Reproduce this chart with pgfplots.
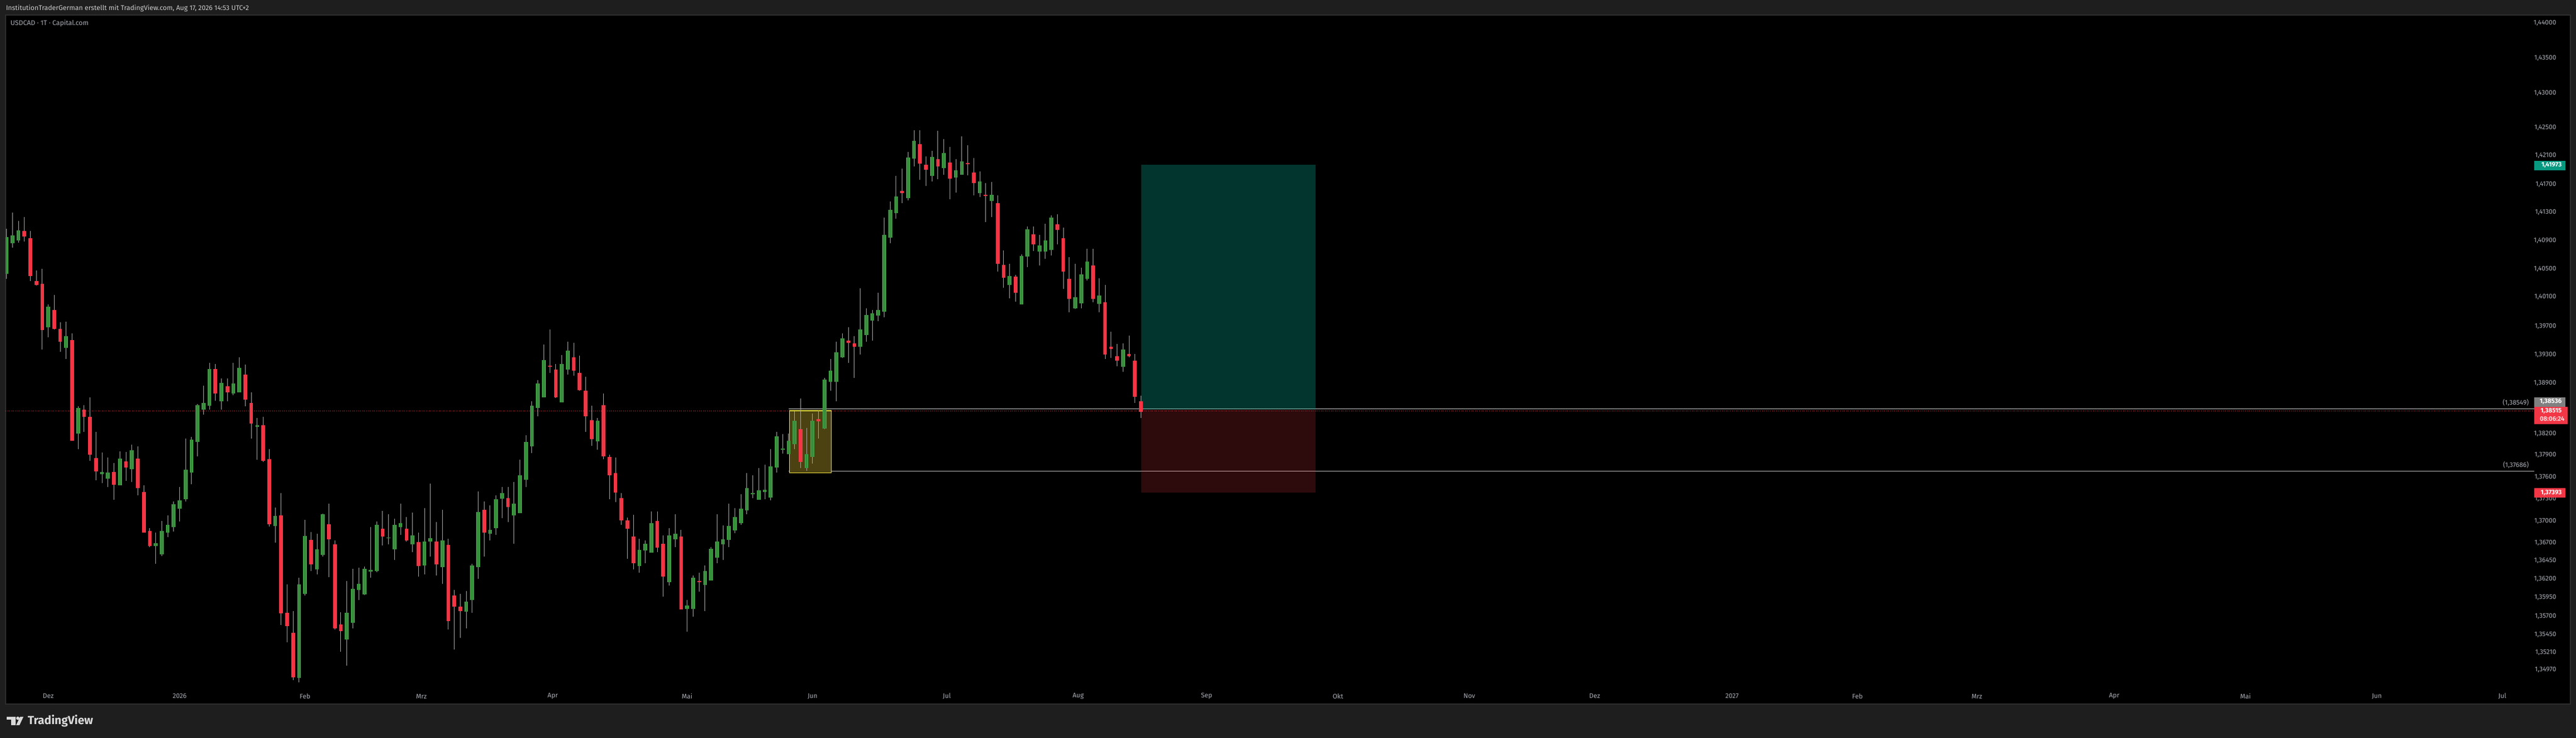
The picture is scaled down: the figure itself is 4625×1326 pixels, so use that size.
\documentclass[border=0pt]{standalone}
\usepackage{pgfplots}
\usepackage{pgfplotstable}
\usepackage{fontspec}
\pgfplotsset{compat=1.18}
\setmainfont{Fira Sans}
\definecolor{frameBg}{HTML}{1E1E1E}
\definecolor{frameLn}{HTML}{2E2E2E}
\definecolor{tickc}{HTML}{A8ABB3}
\definecolor{upBody}{HTML}{388E3C}
\definecolor{upEdge}{HTML}{4CAF50}
\definecolor{dnBody}{HTML}{F23645}
\definecolor{wick}{HTML}{A8A8A8}
\definecolor{teal}{HTML}{089981}
\definecolor{lvl}{HTML}{C8C8C8}
\definecolor{boxFill}{HTML}{4C4211}
\definecolor{boxLine}{HTML}{F5E23B}
\pgfplotstableread{
x o h l c
0 1.40436 1.41061 1.40358 1.40951
1 1.40860 1.41297 1.40805 1.40972
2 1.40906 1.41176 1.40875 1.41051
7 1.39677 1.40001 1.39537 1.39970
10 1.39396 1.39760 1.39241 1.39565
12 1.38208 1.38583 1.37992 1.38558
16 1.37646 1.37936 1.37523 1.37680
17 1.37585 1.37875 1.37467 1.37664
19 1.37493 1.37967 1.37487 1.37857
21 1.37715 1.38044 1.37539 1.37972
25 1.36658 1.36841 1.36417 1.36696
26 1.36546 1.37001 1.36523 1.36869
27 1.36843 1.37077 1.36780 1.36945
28 1.36919 1.37268 1.36856 1.37230
29 1.37171 1.37467 1.36993 1.37284
30 1.37301 1.38144 1.37263 1.37705
31 1.37661 1.38159 1.37506 1.38113
32 1.38092 1.38609 1.37890 1.38597
33 1.38537 1.38869 1.38468 1.38627
34 1.38591 1.39187 1.38537 1.39099
36 1.38653 1.38970 1.38537 1.38906
38 1.38761 1.39187 1.38738 1.38896
39 1.38784 1.39272 1.38776 1.39115
42 1.38298 1.38421 1.37844 1.38321
45 1.36932 1.37184 1.36703 1.37070
49 1.34867 1.36225 1.34805 1.36132
50 1.36007 1.37014 1.35982 1.36793
52 1.36341 1.36825 1.36270 1.36618
53 1.36539 1.37100 1.36513 1.37092
57 1.35385 1.36179 1.35030 1.35747
58 1.35611 1.36346 1.35543 1.36071
59 1.36060 1.36361 1.35922 1.36139
60 1.35998 1.36376 1.35990 1.36344
61 1.36303 1.36917 1.36225 1.36331
62 1.36316 1.36993 1.36301 1.36945
64 1.36764 1.37092 1.36681 1.36772
65 1.36611 1.37031 1.36475 1.36951
66 1.36914 1.37237 1.36809 1.36973
68 1.36683 1.37116 1.36582 1.36800
70 1.36393 1.37177 1.36270 1.36714
71 1.36714 1.37510 1.36518 1.36762
73 1.36371 1.37155 1.36145 1.36734
77 1.35764 1.36044 1.35536 1.35903
78 1.35919 1.36415 1.35749 1.36384
79 1.36371 1.37405 1.36204 1.37123
81 1.36828 1.37215 1.36737 1.36882
82 1.36904 1.37357 1.36809 1.37297
83 1.37304 1.37468 1.37041 1.37379
85 1.37081 1.37535 1.36692 1.37233
86 1.37110 1.37844 1.37108 1.37624
87 1.37570 1.38179 1.37471 1.38087
88 1.38023 1.38649 1.37943 1.38588
89 1.38563 1.38947 1.38448 1.38896
90 1.38710 1.39442 1.38707 1.39223
93 1.38640 1.39293 1.38637 1.39175
94 1.39098 1.39481 1.39031 1.39355
99 1.38099 1.38428 1.37982 1.38380
106 1.36380 1.36755 1.36302 1.36607
107 1.36601 1.36734 1.36421 1.36692
108 1.36572 1.37129 1.36569 1.36973
111 1.36166 1.36901 1.36120 1.36800
112 1.36749 1.37090 1.36648 1.36828
114 1.35796 1.35922 1.35491 1.35849
115 1.35796 1.36255 1.35698 1.36221
117 1.36123 1.36396 1.35774 1.36311
118 1.36188 1.36648 1.36185 1.36623
119 1.36500 1.37090 1.36418 1.36714
120 1.36677 1.36939 1.36471 1.36752
121 1.36743 1.37233 1.36645 1.36936
122 1.36873 1.37177 1.36835 1.37050
123 1.36970 1.37367 1.36948 1.37174
124 1.37148 1.37659 1.37094 1.37456
125 1.37367 1.37621 1.37315 1.37379
126 1.37294 1.37729 1.37288 1.37418
127 1.37401 1.37774 1.37300 1.37427
128 1.37331 1.37991 1.37284 1.37755
129 1.37739 1.38227 1.37662 1.38164
130 1.37982 1.38189 1.37927 1.37994
131 1.37924 1.38206 1.37921 1.38102
132 1.38061 1.38515 1.37985 1.38380
134 1.37723 1.38281 1.37691 1.37918
135 1.37885 1.38480 1.37790 1.38380
137 1.38275 1.38982 1.38260 1.38951
138 1.38928 1.39236 1.38800 1.39076
139 1.38927 1.39490 1.38652 1.39340
140 1.39259 1.39599 1.39249 1.39526
143 1.39407 1.40228 1.39305 1.39659
144 1.39570 1.39947 1.39484 1.39853
145 1.39780 1.39923 1.39498 1.39884
146 1.39850 1.40168 1.39764 1.39923
147 1.39897 1.41218 1.39824 1.40980
148 1.40946 1.41452 1.40865 1.41334
149 1.41291 1.41818 1.41205 1.41523
151 1.41496 1.42155 1.41470 1.42076
152 1.42056 1.42467 1.41952 1.42314
155 1.41812 1.42166 1.41739 1.42084
157 1.41923 1.42340 1.41833 1.42140
159 1.41788 1.42055 1.41581 1.41902
160 1.41836 1.42372 1.41833 1.42021
163 1.41567 1.41881 1.41517 1.41736
165 1.41465 1.41731 1.41234 1.41547
168 1.40272 1.40567 1.40092 1.40400
170 1.40006 1.40708 1.40003 1.40682
171 1.40679 1.41100 1.40528 1.41059
173 1.40742 1.40983 1.40551 1.40831
174 1.40742 1.41139 1.40645 1.40902
175 1.40773 1.41250 1.40692 1.41224
179 1.39947 1.40575 1.39943 1.40104
180 1.40021 1.40520 1.39949 1.40424
181 1.40358 1.40787 1.40340 1.40604
183 1.40013 1.40363 1.39894 1.40126
187 1.39135 1.39459 1.39063 1.39371
}\up
\pgfplotstableread{
x o h l c
3 1.41035 1.41234 1.40891 1.40954
4 1.40935 1.41035 1.40332 1.40410
5 1.40330 1.40486 1.40269 1.40277
6 1.40293 1.40502 1.39375 1.39645
8 1.39923 1.40136 1.39653 1.39661
9 1.39669 1.39747 1.39350 1.39482
11 1.39505 1.39599 1.38102 1.38108
13 1.38537 1.38599 1.38223 1.38437
14 1.38437 1.38707 1.37831 1.37915
15 1.37865 1.38221 1.37562 1.37682
18 1.37680 1.37798 1.37294 1.37508
20 1.37819 1.37952 1.37554 1.37739
22 1.37857 1.38029 1.37347 1.37447
23 1.37403 1.37490 1.36837 1.36843
24 1.36869 1.36900 1.36645 1.36658
35 1.39099 1.39171 1.38661 1.38761
37 1.38861 1.38970 1.38653 1.38784
40 1.39022 1.39163 1.38583 1.38676
41 1.38627 1.38776 1.38139 1.38344
43 1.38321 1.38437 1.37820 1.37828
44 1.37851 1.37990 1.36927 1.36957
46 1.37078 1.37383 1.35583 1.35742
47 1.35740 1.36134 1.35347 1.35566
48 1.35475 1.35770 1.34837 1.34872
51 1.36742 1.36848 1.36316 1.36407
54 1.36955 1.37238 1.36233 1.36749
55 1.36688 1.36734 1.35521 1.35536
56 1.35589 1.35755 1.35219 1.35498
63 1.36902 1.37138 1.36665 1.36787
67 1.36892 1.37050 1.36718 1.36734
69 1.36711 1.36841 1.36239 1.36380
72 1.36724 1.36986 1.36255 1.36408
74 1.36673 1.36755 1.35521 1.35633
75 1.35982 1.36057 1.35251 1.35834
76 1.35831 1.36004 1.35407 1.35774
80 1.37155 1.37265 1.36518 1.36844
84 1.37307 1.37468 1.36986 1.37193
91 1.39144 1.39653 1.39050 1.39128
92 1.39101 1.39169 1.38701 1.38713
95 1.39265 1.39465 1.39009 1.39079
96 1.39046 1.39284 1.38803 1.38806
97 1.38793 1.38991 1.38227 1.38441
98 1.38390 1.38592 1.38036 1.38122
100 1.38607 1.38761 1.37851 1.37889
101 1.37882 1.37905 1.37300 1.37628
102 1.37659 1.37873 1.37262 1.37389
103 1.37313 1.37376 1.36948 1.37011
104 1.37009 1.37047 1.36481 1.36895
105 1.36781 1.37085 1.36339 1.36421
109 1.36999 1.37129 1.36582 1.36636
110 1.36692 1.36803 1.35966 1.36239
113 1.36787 1.36876 1.35790 1.35793
116 1.36182 1.36292 1.36035 1.36164
133 1.38263 1.38691 1.37729 1.37812
136 1.38403 1.38531 1.38144 1.38377
141 1.39498 1.39682 1.39181 1.39469
142 1.39456 1.39558 1.38980 1.39407
150 1.41602 1.41920 1.41431 1.41567
153 1.42266 1.42467 1.41762 1.41994
154 1.41973 1.42087 1.41675 1.41899
156 1.42052 1.42459 1.41770 1.41946
158 1.42005 1.42229 1.41486 1.41780
161 1.41995 1.42253 1.41825 1.41983
162 1.41863 1.42071 1.41541 1.41709
164 1.41554 1.41715 1.41163 1.41528
166 1.41428 1.41541 1.40465 1.40567
167 1.40557 1.40763 1.40238 1.40381
169 1.40392 1.40418 1.40043 1.40170
172 1.40988 1.41100 1.40755 1.40844
176 1.41129 1.41273 1.40849 1.41048
177 1.40941 1.41084 1.40222 1.40460
178 1.40361 1.40669 1.39894 1.40076
182 1.40549 1.40787 1.40034 1.40084
184 1.40032 1.40277 1.39241 1.39298
185 1.39404 1.39622 1.39249 1.39380
186 1.39277 1.39451 1.39140 1.39220
188 1.39311 1.39568 1.39264 1.39282
189 1.39218 1.39311 1.38634 1.38711
190 1.38653 1.38730 1.38423 1.38509
}\dn
% turn each table into jump-separated segments
\newcommand\segments[2]{% table, prefix
  \pgfplotstablegetrowsof{#1}\pgfmathtruncatemacro\lastrow{\pgfplotsretval-1}%
  \gdef\segW{}\gdef\segB{}%
  \pgfplotsforeachungrouped \r in {0,...,\lastrow}{%
    \pgfplotstablegetelem{\r}{x}\of{#1}\edef\X{\pgfplotsretval}%
    \pgfplotstablegetelem{\r}{o}\of{#1}\edef\O{\pgfplotsretval}%
    \pgfplotstablegetelem{\r}{h}\of{#1}\edef\H{\pgfplotsretval}%
    \pgfplotstablegetelem{\r}{l}\of{#1}\edef\L{\pgfplotsretval}%
    \pgfplotstablegetelem{\r}{c}\of{#1}\edef\C{\pgfplotsretval}%
    \xdef\segW{\segW(\X,\H)(\X,\L)(\X,nan)}%
    \xdef\segB{\segB(\X,\O)(\X,\C)(\X,nan)}%
  }%
  \global\expandafter\let\csname #2W\endcsname\segW
  \global\expandafter\let\csname #2B\endcsname\segB
}
\segments{\up}{up}
\segments{\dn}{dn}
\newcommand\fs[1]{\fontsize{#1}{#1}\selectfont}
\begin{document}
\begin{tikzpicture}[x=0.25pt,y=0.25pt]
\useasboundingbox (0,0) rectangle (4625,1326);
\fill[frameBg] (0,0) rectangle (4625,1326);
\begin{axis}[at={(2.5pt,15.25pt)},anchor=south west,scale only axis,width=1151.25pt,height=309.5pt,
ymode=log,xmin=-0.149,xmax=429.4,ymin=1.34512,ymax=1.44120,
axis background/.style={fill=black},axis line style={frameLn,line width=.375pt},
ytick pos=right,xtick pos=bottom,major tick length=0pt,unbounded coords=jump,
xtick={7,29,50,69.5,91.5,114,135,157.5,179.5,201,223,245,266,289,310,330,353,375,397,418},
xticklabels={Dez,2026,Feb,Mrz,Apr,Mai,Jun,Jul,Aug,Sep,Okt,Nov,Dez,2027,Feb,Mrz,Apr,Mai,Jun,Jul},
ytick={1.44,1.435,1.43,1.425,1.421,1.417,1.413,1.409,1.405,1.401,1.397,1.393,1.389,1.382,1.379,1.376,1.373,1.37,1.367,1.3645,1.362,1.3595,1.357,1.3545,1.3521,1.3497},
yticklabels={{1,44000},{1,43500},{1,43000},{1,42500},{1,42100},{1,41700},{1,41300},{1,40900},{1,40500},{1,40100},{1,39700},{1,39300},{1,38900},{1,38200},{1,37900},{1,37600},{1,37300},{1,37000},{1,36700},{1,36450},{1,36200},{1,35950},{1,35700},{1,35450},{1,35210},{1,34970}},
yticklabel pos=right,
y tick label style={anchor=east,xshift=-2.825pt,font=\fs{3},text=tickc},
x tick label style={anchor=center,yshift=3.5pt,font=\fs{3},text=tickc}]
% position box
\addplot[forget plot,draw=lvl,line width=.35pt] coordinates {(131,1.38549)(423.3,1.38549)};
\addplot[forget plot,draw=lvl,line width=.35pt] coordinates {(131,1.37686)(423.3,1.37686)};
\addplot[forget plot,draw=dnBody,line width=.25pt,dash pattern=on .25pt off .65pt] coordinates {(-0.149,1.38515)(423.1,1.38515)};
\addplot[forget plot,fill=teal,fill opacity=.35,draw=none] coordinates {(190.06,1.41973)(219.25,1.41973)(219.25,1.38536)(190.06,1.38536)} --cycle;
\addplot[forget plot,fill=dnBody,fill opacity=.19,draw=none] coordinates {(190.06,1.38536)(219.25,1.38536)(219.25,1.37393)(190.06,1.37393)} --cycle;
\addplot[forget plot,fill=boxFill,draw=boxLine,line width=.325pt] coordinates {(131.13,1.38519)(138.16,1.38519)(138.16,1.37664)(131.13,1.37664)} --cycle;
% candles
\addplot[forget plot,draw=wick,line width=.25pt] coordinates {\upW};
\addplot[forget plot,draw=wick,line width=.25pt] coordinates {\dnW};
\addplot[forget plot,draw=upEdge,line width=.25pt,double=upBody,double distance=1.175pt] coordinates {\upB};
\addplot[forget plot,draw=dnBody,line width=1.675pt] coordinates {\dnB};
\end{axis}
% frame text
\node[anchor=west,inner sep=0,text=white!80!black,font=\fs{3.08}] at (10,1311) {InstitutionTraderGerman erstellt mit TradingView.com, Aug 17, 2026 14:53 UTC+2};
\node[anchor=west,inner sep=0,text=tickc,font=\fs{3.08}] at (18,1284) {USDCAD · 1T · Capital.com};
% axis price labels
\fill[teal] (4550,1020.3) rectangle (4606,1037);
\node[anchor=east,inner sep=0,text=white,font=\bfseries\fs{2.875}] at (4600,1029) {1,41973};
\fill[gray] (4550,595.3) rectangle (4606,612);
\node[anchor=east,inner sep=0,text=white,font=\bfseries\fs{2.875}] at (4600,604) {1,38536};
\fill[dnBody] (4550,564.3) rectangle (4610,595);
\node[anchor=east,inner sep=0,text=white,font=\bfseries\fs{2.875}] at (4600,587) {1,38515};
\node[anchor=east,inner sep=0,text=white!80!dnBody,font=\bfseries\fs{2.875}] at (4605,573) {08:06:24};
\fill[dnBody] (4550,432) rectangle (4606,449);
\node[anchor=east,inner sep=0,text=white,font=\bfseries\fs{2.875}] at (4600,440.5) {1,37393};
\node[anchor=east,inner sep=0,text=tickc,font=\fs{3}] at (4541,603) {(1,38549)};
\node[anchor=east,inner sep=0,text=tickc,font=\fs{3}] at (4541,491) {(1,37686)};
% TradingView mark
\fill[white!85!black] (12,38) -- (28,38) -- (28,23) -- (20,23) -- (20,33) -- (12,33) -- cycle;
\fill[white!85!black] (32,35.5) circle (3);
\fill[white!85!black] (36,38) -- (42,38) -- (35,23) -- (29,23) -- cycle;
\node[anchor=west,inner sep=0,text=white!85!black,font=\bfseries\fs{5.25}] at (49,30.5) {TradingView};
\end{tikzpicture}
\end{document}
